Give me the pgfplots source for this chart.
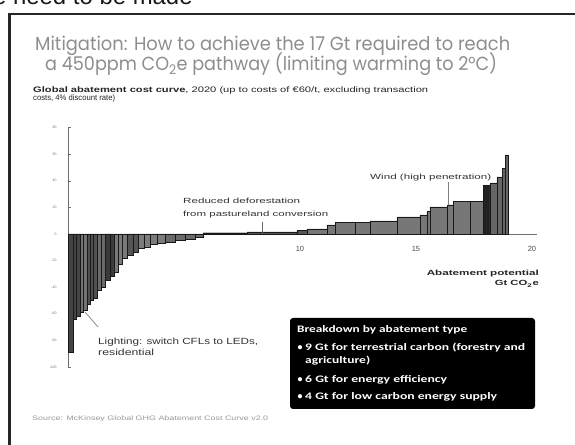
\documentclass[border=0pt]{standalone}
\usepackage{graphicx}
\usepackage{fontspec}
\usepackage{pgfplots}
\pgfplotsset{compat=1.18}
\setmainfont{Liberation Sans}
\newfontfamily\titlefont{Poppins}
\newfontfamily\boxfont{Carlito}

\definecolor{titlegray}{HTML}{8E8E8E}
\definecolor{axisgray}{HTML}{707070}
\definecolor{barA}{HTML}{444444}
\definecolor{barB}{HTML}{737373}
\definecolor{barC}{HTML}{505050}
\definecolor{barD}{HTML}{6A6A6A}
\definecolor{barE}{HTML}{3A3A3A}
\definecolor{barF}{HTML}{7A7A7A}
\definecolor{barG}{HTML}{555555}
\definecolor{barH}{HTML}{7C7C7C}
\definecolor{barI}{HTML}{6A6A6A}
\definecolor{barP}{HTML}{777777}
\definecolor{barQ}{HTML}{222222}
\definecolor{barR}{HTML}{666666}

\pgfplotsset{macc/.style={ybar interval, draw=black!90, line width=0.3bp}}

% fixed-width text line: #1 width, #2 text
\newcommand{\fit}[2]{\resizebox{#1}{\height}{#2}}

\begin{document}
\begin{tikzpicture}[x=1bp,y=1bp]
\useasboundingbox (0,0) rectangle (575,445);
\clip (0,0) rectangle (575,445);
\fill[white] (0,0) rectangle (575,445);

% heading of the page behind the slide
\node[anchor=base west, inner sep=0, text=black!90,
      font=\fontsize{24}{28}\selectfont] at (-7,440) {e need to be made};

% slide frame
\draw[black!85, line width=2.5bp] (9.5,0) -- (9.5,431);
\draw[black!85, line width=1.5bp] (8.25,431) -- (575,431);

% slide title
\node[anchor=base west, inner sep=0, text=titlegray,
      font=\titlefont\fontsize{19}{22}\selectfont] at (35,394)
  {\fit{475bp}{Mitigation: How to achieve the 17 Gt required to reach}};
\node[anchor=base west, inner sep=0, text=titlegray,
      font=\titlefont\fontsize{19}{22}\selectfont] at (45,374)
  {\fit{452bp}{a 450ppm CO\textsubscript{2}e pathway (limiting warming to 2°C)}};

% chart subtitle
\node[anchor=base west, inner sep=0, text=black!85,
      font=\fontsize{8}{9}\selectfont] at (33,352)
  {\fit{395bp}{\textbf{Global abatement cost curve}, 2020 (up to costs of €60/t, excluding transaction}};
\node[anchor=base west, inner sep=0, text=black!85,
      font=\fontsize{8}{9}\selectfont] at (33,344)
  {\fit{82bp}{costs, 4\% discount rate)}};

\begin{axis}[
  at={(68bp,78bp)}, anchor=south west,
  scale only axis, width=468.6bp, height=239.4bp,
  xmin=0, xmax=20.2, ymin=-100, ymax=80,
  enlargelimits=false, clip=false,
  axis x line=middle, axis y line=left,
  axis line style={-, draw=axisgray, line width=0.6bp},
  xtick={10,15,20}, ytick={-100,-80,...,80},
  /pgf/number format/assume math mode=true,
  xticklabel style={font=\fontsize{7.5}{9}\selectfont, text=black!70, yshift=-9bp},
  yticklabel style={font=\fontsize{3.5}{4}\selectfont, text=black!55, xshift=-8bp},
  x tick style={draw=none},
  y tick style={draw=axisgray, line width=0.4bp},
  tick align=inside, major tick length=3bp,
]
% negative-cost measures
\addplot[macc, fill=barA] coordinates {(0,-89) (0.22,-64) (0.36,-62) (0.52,0)};
\addplot[macc, fill=barB] coordinates {(0.52,-59) (0.67,-57) (0.82,0)};
\addplot[macc, fill=barC] coordinates {(0.82,-53) (0.95,-50) (1.08,-48) (1.25,0)};
\addplot[macc, fill=barD] coordinates {(1.25,-42) (1.42,-40) (1.60,0)};
\addplot[macc, fill=barE] coordinates {(1.60,-35) (1.81,-32) (1.98,0)};
\addplot[macc, fill=barF] coordinates {(1.98,-29) (2.16,-23) (2.33,-18) (2.54,0)};
\addplot[macc, fill=barG] coordinates {(2.54,-16) (2.80,-13.5) (3.02,0)};
\addplot[macc, fill=barH] coordinates {(3.02,-11) (3.28,-10) (3.53,-8) (3.84,-7) (4.18,0)};
\addplot[macc, fill=barI] coordinates {(4.18,-6) (4.61,-4.5) (5.04,-3.8) (5.47,-2.6) (5.82,0)};
% positive-cost measures
\addplot[macc, fill=barG] coordinates {(5.82,1) (7.72,1.6) (9.87,2.6) (10.30,0)};
\addplot[macc, fill=barP] coordinates {(10.30,3.8) (11.16,6.8) (11.51,9) (12.37,9) (13.02,9.8)
  (14.18,12.8) (15.17,14.3) (15.47,17) (15.60,20.3) (16.34,21.8) (16.60,24.8) (17.33,24.8) (17.89,0)};
\addplot[macc, fill=barQ] coordinates {(17.89,36.8) (18.19,0)};
\addplot[macc, fill=barR] coordinates {(18.19,38.4) (18.49,42.9) (18.71,49.6) (18.84,59.4) (18.97,0)};
\end{axis}

% annotations
\draw[black!60, line width=0.6bp] (262,223) -- (262,212);
\draw[black!50, line width=0.6bp] (448,263) -- (448,240);
\draw[black!45, line width=0.8bp] (85,133) -- (98,118);

\node[anchor=base west, inner sep=0, text=black!80, font=\fontsize{7.5}{9}\selectfont]
  at (183,241.5) {\fit{117bp}{Reduced deforestation}};
\node[anchor=base west, inner sep=0, text=black!80, font=\fontsize{7.5}{9}\selectfont]
  at (183,228.5) {\fit{145bp}{from pastureland conversion}};
\node[anchor=base west, inner sep=0, text=black!80, font=\fontsize{7.5}{9}\selectfont]
  at (370,265) {\fit{121bp}{Wind (high penetration)}};
\node[anchor=base west, inner sep=0, text=black!80, font=\fontsize{9}{10}\selectfont]
  at (98,100) {\fit{160bp}{Lighting: switch CFLs to LEDs,}};
\node[anchor=base west, inner sep=0, text=black!80, font=\fontsize{9}{10}\selectfont]
  at (98,89.5) {\fit{56bp}{residential}};
\node[anchor=base east, inner sep=0, text=black!85, font=\bfseries\fontsize{7.5}{9}\selectfont]
  at (539,169) {\fit{112bp}{Abatement potential}};
\node[anchor=base east, inner sep=0, text=black!85, font=\bfseries\fontsize{7.5}{9}\selectfont]
  at (539,159) {\fit{44bp}{Gt CO\textsubscript{2}e}};

% breakdown box
\fill[black, rounded corners=3bp] (290,36) rectangle (535,127);
\begin{scope}[every node/.style={anchor=base west, inner sep=0, text=white,
      font=\boxfont\bfseries\fontsize{10}{12}\selectfont}]
\node at (297,112) {\fit{170bp}{Breakdown by abatement type}};
\node at (297.5,94) {•};
\node at (305,94) {\fit{220bp}{9 Gt for terrestrial carbon (forestry and}};
\node at (305,81) {\fit{65bp}{agriculture)}};
\node at (297.5,62) {•};
\node at (305,62) {\fit{142bp}{6 Gt for energy efficiency}};
\node at (297.5,45) {•};
\node at (305,45) {\fit{192bp}{4 Gt for low carbon energy supply}};
\end{scope}

% source line
\node[anchor=base west, inner sep=0, text=black!40, font=\fontsize{6.5}{8}\selectfont]
  at (32,24) {\fit{236bp}{Source: McKinsey Global GHG Abatement Cost Curve v2.0}};
\end{tikzpicture}
\end{document}
